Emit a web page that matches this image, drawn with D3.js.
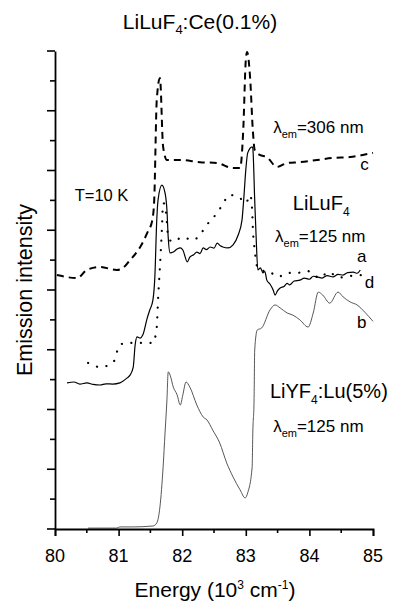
<!DOCTYPE html>
<html>
<head>
<meta charset="utf-8">
<script src="https://cdn.jsdelivr.net/npm/d3@7"></script>
<style>
  body { margin: 0; background: #fff; }
  svg { font-family: Arial, "Liberation Sans", sans-serif; }
</style>
</head>
<body>
<svg id="chart" width="400" height="605"></svg>
<script>
// energy in 10^3 cm^-1, intensity in arbitrary offset units (axis spans 0..16)
var curveC = [[80.03,8.50],[80.35,8.40],[80.50,8.67],[80.71,8.77],[80.97,8.67],[81.07,8.74],[81.18,9.00],
  [81.34,9.44],[81.45,9.91],[81.53,10.34],[81.56,11.01],[81.60,14.36],[81.65,15.10],[81.70,12.79],
  [81.76,12.35],[81.86,12.35],[81.97,12.35],[82.28,12.28],[82.55,12.25],[82.80,12.08],[82.91,12.08],
  [82.96,13.36],[83.00,15.70],[83.02,15.97],[83.07,15.03],[83.11,13.36],[83.14,12.69],[83.22,12.52],
  [83.33,12.45],[83.49,12.12],[83.65,12.25],[83.85,12.28],[84.12,12.35],[84.37,12.42],[84.64,12.45],
  [84.84,12.52],[85.00,12.59]];

var curveA = [[80.19,4.89],[80.30,4.92],[80.39,4.85],[80.50,4.89],[80.60,4.84],[80.71,4.82],[80.80,4.86],
  [80.91,4.85],[81.02,4.89],[81.13,5.05],[81.18,5.15],[81.23,5.42],[81.26,6.16],[81.29,6.43],[81.34,6.39],
  [81.38,6.49],[81.45,7.06],[81.49,7.33],[81.54,7.67],[81.57,8.44],[81.60,10.34],[81.62,11.01],[81.68,11.51],
  [81.73,11.25],[81.76,10.68],[81.78,9.77],[81.81,9.24],[81.86,9.27],[81.92,9.37],[81.97,9.41],[82.01,9.34],
  [82.08,8.94],[82.12,9.10],[82.18,9.18],[82.23,9.27],[82.28,9.22],[82.33,9.41],[82.38,9.35],[82.44,9.44],
  [82.50,9.40],[82.55,9.57],[82.60,9.48],[82.64,9.44],[82.72,9.41],[82.80,9.51],[82.88,9.84],[82.94,10.34],
  [82.97,11.11],[83.00,12.02],[83.03,12.59],[83.10,12.79],[83.11,12.75],[83.14,11.01],[83.16,9.91],
  [83.19,8.67],[83.23,8.74],[83.27,8.57],[83.30,8.62],[83.33,8.33],[83.38,8.20],[83.43,8.00],[83.46,7.83],
  [83.50,7.98],[83.54,8.07],[83.60,8.12],[83.65,8.22],[83.69,8.17],[83.76,8.30],[83.85,8.33],[83.92,8.40],
  [84.00,8.36],[84.06,8.46],[84.12,8.44],[84.20,8.40],[84.28,8.48],[84.37,8.44],[84.45,8.52],[84.53,8.50],
  [84.60,8.58],[84.69,8.60],[84.75,8.56],[84.80,8.67]];

var curveD = [[80.52,5.56],[80.71,5.42],[80.91,5.56],[81.02,6.16],[81.13,6.23],[81.34,6.23],[81.54,6.23],
  [81.60,6.76],[81.62,7.67],[81.65,8.77],[81.68,10.01],[81.70,10.91],[81.73,10.85],[81.76,10.24],
  [81.78,9.74],[81.86,9.61],[82.00,9.77],[82.17,9.67],[82.31,9.94],[82.41,10.24],[82.55,10.58],
  [82.64,10.88],[82.74,11.18],[82.89,11.11],[83.00,10.91],[83.07,11.18],[83.10,10.68],[83.11,10.11],
  [83.14,9.34],[83.18,8.77],[83.22,8.67],[83.38,8.60],[83.51,8.44],[83.65,8.57],[83.81,8.57],
  [83.96,8.64],[84.17,8.40],[84.29,8.60],[84.48,8.42],[84.64,8.47],[84.87,8.50]];

var curveB = [[80.52,0.03],[80.97,0.03],[81.02,0.07],[81.23,0.07],[81.54,0.10],[81.60,0.20],[81.65,0.74],
  [81.70,2.08],[81.73,3.21],[81.76,4.32],[81.78,5.26],[81.81,5.15],[81.86,4.75],[81.92,4.49],[81.97,4.15],
  [82.01,4.49],[82.06,4.92],[82.12,4.75],[82.23,4.15],[82.33,3.75],[82.39,3.65],[82.48,3.31],[82.59,2.88],
  [82.70,2.21],[82.80,1.74],[82.91,1.31],[82.99,1.04],[83.03,1.21],[83.10,2.08],[83.11,3.21],[83.13,4.32],
  [83.14,5.99],[83.18,6.66],[83.25,6.73],[83.38,7.33],[83.46,7.50],[83.54,7.40],[83.65,7.23],[83.74,7.16],
  [83.85,7.00],[83.98,6.76],[84.06,7.23],[84.14,7.93],[84.21,7.83],[84.32,7.56],[84.45,7.93],[84.53,7.77],
  [84.64,7.60],[84.75,7.50],[84.87,7.26],[85.00,6.95]];

var xTicks = [80, 81, 82, 83, 84, 85];
var xMinor = [80.5, 81.5, 82.5, 83.5, 84.5];
var yTicks = d3.range(0, 17, 1);

var svg = d3.select("#chart");
var x = d3.scaleLinear().domain([80, 85]).range([55, 373]);
var y = d3.scaleLinear().domain([0, 16]).range([529, 51]);

var line = d3.line()
  .x(function (d) { return x(d[0]); })
  .y(function (d) { return y(d[1]); })
  .curve(d3.curveMonotoneX);

// curves
svg.append("path").datum(curveB)
  .attr("d", line).attr("fill", "none")
  .attr("stroke", "#444").attr("stroke-width", 0.9);

svg.append("path").datum(curveA)
  .attr("d", line).attr("fill", "none")
  .attr("stroke", "#000").attr("stroke-width", 1.2);

svg.append("path").datum(curveD)
  .attr("d", line).attr("fill", "none")
  .attr("stroke", "#000").attr("stroke-width", 2.2)
  .attr("stroke-linecap", "round")
  .attr("stroke-dasharray", "0.1,9.5");

svg.append("path").datum(curveC)
  .attr("d", line).attr("fill", "none")
  .attr("stroke", "#000").attr("stroke-width", 2)
  .attr("stroke-dasharray", "7,5");

// axes
var gx = svg.append("g").attr("transform", "translate(0," + y(0) + ")");
gx.call(d3.axisBottom(x).tickValues(xTicks).tickSize(7).tickFormat(""));
gx.selectAll(".minor").data(xMinor).enter().append("line")
  .attr("class", "minor")
  .attr("x1", function (d) { return x(d); }).attr("x2", function (d) { return x(d); })
  .attr("y1", 0).attr("y2", 4).attr("stroke", "#000").attr("stroke-width", 1.6);

var gy = svg.append("g").attr("transform", "translate(" + x(80) + ",0)");
gy.call(d3.axisLeft(y).tickValues(yTicks)
  .tickSize(0).tickFormat(""));
gy.selectAll(".yt").data(yTicks).enter().append("line")
  .attr("class", "yt")
  .attr("x1", function (d) { return d % 2 === 0 ? -8 : -5; }).attr("x2", 0)
  .attr("y1", function (d) { return y(d); }).attr("y2", function (d) { return y(d); })
  .attr("stroke", "#000").attr("stroke-width", 1.6);

svg.selectAll(".domain").attr("stroke-width", 1.8);
svg.selectAll(".tick line").attr("stroke-width", 1.6);

svg.selectAll(".xlab").data(xTicks).enter().append("text")
  .attr("class", "xlab")
  .attr("x", function (d) { return x(d); })
  .attr("y", 562)
  .attr("text-anchor", "middle")
  .attr("font-size", 18)
  .text(function (d) { return d; });

// title + axis titles
var title = svg.append("text").attr("x", 200).attr("y", 29)
  .attr("text-anchor", "middle").attr("font-size", 21);
title.append("tspan").text("LiLuF");
title.append("tspan").attr("font-size", 13).attr("dy", 5).text("4");
title.append("tspan").attr("dy", -5).text(":Ce(0.1%)");

var xl = svg.append("text").attr("x", 215).attr("y", 597)
  .attr("text-anchor", "middle").attr("font-size", 21);
xl.append("tspan").text("Energy (10");
xl.append("tspan").attr("font-size", 12).attr("dy", -8).text("3");
xl.append("tspan").attr("dy", 8).text(" cm");
xl.append("tspan").attr("font-size", 12).attr("dy", -8).text("-1");
xl.append("tspan").attr("dy", 8).text(")");

svg.append("text")
  .attr("transform", "translate(32,290) rotate(-90)")
  .attr("text-anchor", "middle").attr("font-size", 21.5)
  .text("Emission intensity");

// annotations (positioned in data coordinates)
function lambdaLabel(ex, ey, val) {
  var t = svg.append("text").attr("x", x(ex)).attr("y", y(ey)).attr("font-size", 17);
  t.append("tspan").text("\u03bb");
  t.append("tspan").attr("font-size", 11).attr("dy", 5).text("em");
  t.append("tspan").attr("dy", -5).text("=" + val + " nm");
}
function compLabel(ex, ey, a, sub, b) {
  var t = svg.append("text").attr("x", x(ex)).attr("y", y(ey)).attr("font-size", 20);
  t.append("tspan").text(a);
  t.append("tspan").attr("font-size", 12).attr("dy", 6).text(sub);
  if (b) t.append("tspan").attr("dy", -6).text(b);
}
function letter(ex, ey, s) {
  svg.append("text").attr("x", x(ex)).attr("y", y(ey)).attr("font-size", 17).text(s);
}

lambdaLabel(83.43, 13.25, 306);
letter(84.80, 12.02, "c");
svg.append("text").attr("x", x(80.31)).attr("y", y(10.98)).attr("font-size", 16.5).text("T=10 K");
compLabel(83.74, 10.68, "LiLuF", "4", "");
lambdaLabel(83.46, 9.61, 125);
letter(84.75, 8.94, "a");
letter(84.87, 8.07, "d");
letter(84.75, 6.73, "b");
compLabel(83.38, 4.38, "LiYF", "4", ":Lu(5%)");
lambdaLabel(83.43, 3.25, 125);
</script>
</body>
</html>
